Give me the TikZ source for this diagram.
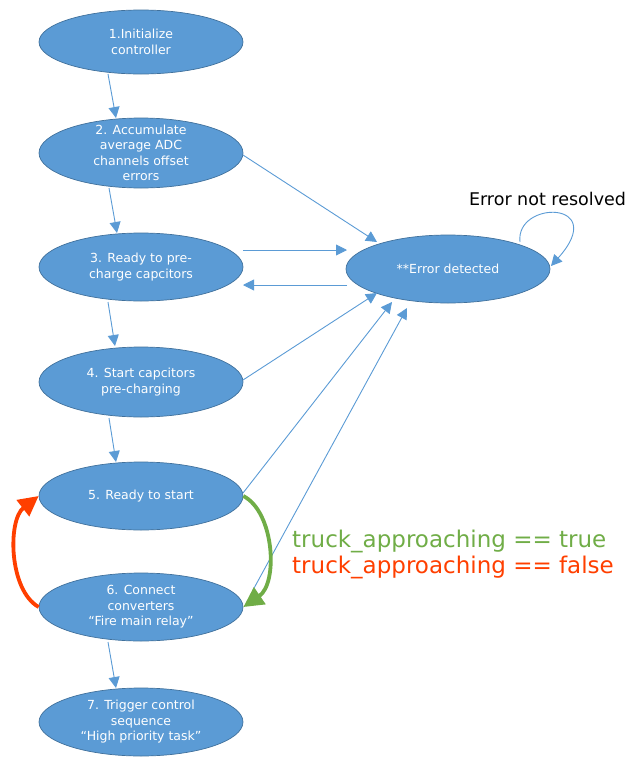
\documentclass[tikz,border=0pt]{standalone}
\usepackage{fontspec}
\setmainfont{DejaVu Sans}
\usetikzlibrary{arrows.meta,shapes.geometric}
\definecolor{stfill}{HTML}{5B9BD5}
\definecolor{stline}{HTML}{41719C}
\definecolor{okgreen}{HTML}{70AD47}
\definecolor{nored}{HTML}{FF3F00}

\begin{document}
\begin{tikzpicture}[x=1pt,y=-1pt,
  state/.style={ellipse, draw=stline, line width=0.7pt, fill=stfill,
    minimum width=204pt, minimum height=68pt, inner sep=0pt},
  statetext/.style={text=white, align=center, inner sep=0pt,
    font=\fontsize{12.5}{15.5}\selectfont},
  flow/.style={draw=stfill, line width=0.9pt,
    -{Triangle[length=11pt,width=11pt]}},
  yesflow/.style={draw=okgreen, line width=3.8pt,
    -{Triangle[length=20pt,width=20pt]}},
  noflow/.style={draw=nored, line width=3.8pt,
    -{Triangle[length=20pt,width=20pt]}},
  cond/.style={anchor=base west, inner sep=0pt,
    font=\fontsize{23}{27}\selectfont}]

\useasboundingbox (0,0) rectangle (634,758);

% states
\node[state, minimum height=64pt] (s1) at (141,42) {};
\node[state, minimum height=70pt] (s2) at (141,153) {};
\node[state] (s3) at (141,267) {};
\node[state, minimum height=70pt] (s4) at (141,382) {};
\node[state] (s5) at (141,496) {};
\node[state] (s6) at (141,607) {};
\node[state] (s7) at (141,722) {};
\node[state] (err) at (448,269) {};

\node[statetext] (t1) at (s1) {1.Initialize\\controller};
\node[statetext] (t2) at (s2) {2. Accumulate\\average ADC\\channels offset\\errors};
\node[statetext] (t3) at (s3) {3. Ready to pre-\\charge capcitors};
\node[statetext] (t4) at (s4) {4. Start capcitors\\pre-charging};
\node[statetext] (t5) at (s5) {5. Ready to start};
\node[statetext] (t6) at (s6) {6. Connect\\converters\\“Fire main relay”};
\node[statetext] (t7) at (s7) {7. Trigger control\\sequence\\“High priority task”};
\node[statetext] (terr) at (err) {**Error detected};

% main sequence
\draw[flow] ([shift={(-33,32)}]s1.center) -- ([shift={(-25,-35)}]s2.center);
\draw[flow] ([shift={(-32,35)}]s2.center) -- ([shift={(-24,-34)}]s3.center);
\draw[flow] ([shift={(-33,35)}]s3.center) -- ([shift={(-26,-36)}]s4.center);
\draw[flow] ([shift={(-32,36)}]s4.center) -- ([shift={(-25,-34)}]s5.center);
\draw[flow] ([shift={(-33,35)}]s6.center) -- ([shift={(-25,-34)}]s7.center);

% error transitions
\draw[flow] ([shift={(102,2)}]s2.center) -- ([shift={(-71,-27)}]err.center);
\draw[flow] ([shift={(102,-17)}]s3.center) -- ([shift={(-101,-19)}]err.center);
\draw[flow] ([shift={(-101,16)}]err.center) -- ([shift={(102,18)}]s3.center);
\draw[flow] ([shift={(102,-2)}]s4.center) -- ([shift={(-71,24)}]err.center);
\draw[flow] ([shift={(102,-3)}]s5.center) -- ([shift={(-56,33)}]err.center);
\draw[flow] ([shift={(112,-17)}]s6.center) -- ([shift={(-41,39)}]err.center);

% error self loop
\draw[flow] ([shift={(72,-27)}]err.center)
  .. controls ([shift={(67,-69)}]err.center) and ([shift={(162,-69)}]err.center)
  .. ([shift={(103,-3)}]err.center);
\node[anchor=base, inner sep=0pt, font=\fontsize{17.5}{20}\selectfont]
  (loopnote) at (547.5,205) {Error not resolved};

% truck condition
\draw[yesflow] (s5.east)
  .. controls ([shift={(31,16)}]s5.east) and ([shift={(35,-24)}]s6.east)
  .. (s6.east);
\draw[noflow] (s6.west)
  .. controls ([shift={(-30,-17)}]s6.west) and ([shift={(-31,24)}]s5.west)
  .. (s5.west);

\node[cond, text=okgreen] (ctrue) at (292,547) {truck\_approaching == true};
\node[cond, text=nored] (cfalse) at (292,573) {truck\_approaching == false};

\end{tikzpicture}
\end{document}
